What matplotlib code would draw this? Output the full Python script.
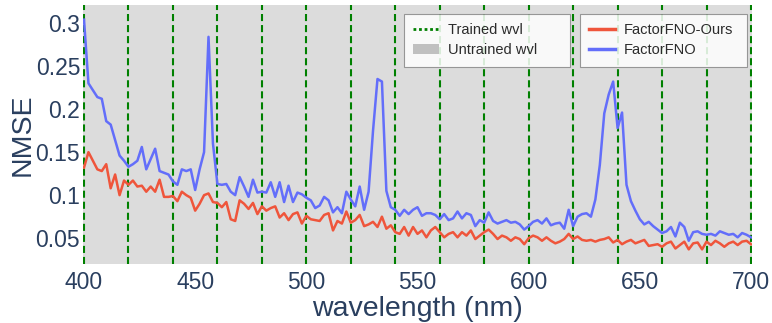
import numpy as np
import matplotlib
matplotlib.use("Agg")
import matplotlib.pyplot as plt
from matplotlib.lines import Line2D
from matplotlib.patches import Patch

# ---------------- data ----------------
wavelength = np.arange(400, 701, 2)

factorfno = [
    0.304, 0.230, 0.222, 0.214, 0.212, 0.186, 0.182, 0.164, 0.146, 0.140,   # 400-418
    0.133, 0.136, 0.140, 0.156, 0.130, 0.142, 0.154, 0.128, 0.126, 0.124,   # 420-438
    0.116, 0.112, 0.130, 0.128, 0.130, 0.106, 0.130, 0.150, 0.284, 0.160,   # 440-458
    0.113, 0.112, 0.113, 0.104, 0.100, 0.121, 0.110, 0.098, 0.118, 0.103,   # 460-478
    0.104, 0.103, 0.115, 0.098, 0.115, 0.092, 0.111, 0.092, 0.103, 0.101,   # 480-498
    0.097, 0.094, 0.085, 0.088, 0.098, 0.094, 0.080, 0.086, 0.079, 0.104,   # 500-518
    0.095, 0.087, 0.110, 0.083, 0.104, 0.175, 0.235, 0.232, 0.105, 0.086,   # 520-538
    0.083, 0.076, 0.083, 0.078, 0.083, 0.086, 0.076, 0.079, 0.079, 0.077,   # 540-558
    0.072, 0.078, 0.071, 0.073, 0.081, 0.073, 0.079, 0.077, 0.064, 0.071,   # 560-578
    0.068, 0.080, 0.070, 0.067, 0.069, 0.071, 0.068, 0.069, 0.066, 0.060,   # 580-598
    0.064, 0.069, 0.071, 0.067, 0.073, 0.065, 0.067, 0.068, 0.061, 0.083,   # 600-618
    0.064, 0.075, 0.078, 0.079, 0.075, 0.095, 0.135, 0.195, 0.217, 0.232,   # 620-638
    0.178, 0.196, 0.112, 0.093, 0.082, 0.072, 0.066, 0.069, 0.064, 0.060,   # 640-658
    0.056, 0.058, 0.063, 0.052, 0.068, 0.063, 0.047, 0.057, 0.058, 0.055,   # 660-678
    0.054, 0.055, 0.053, 0.058, 0.056, 0.054, 0.055, 0.051, 0.056, 0.054,   # 680-698
    0.051,                                                                  # 700
]

factorfno_ours = [
    0.132, 0.150, 0.140, 0.130, 0.128, 0.136, 0.108, 0.124, 0.100, 0.117,   # 400-418
    0.112, 0.117, 0.110, 0.111, 0.104, 0.110, 0.104, 0.118, 0.098, 0.098,   # 420-438
    0.099, 0.093, 0.104, 0.100, 0.097, 0.082, 0.090, 0.100, 0.102, 0.092,   # 440-458
    0.091, 0.086, 0.092, 0.072, 0.070, 0.094, 0.090, 0.084, 0.091, 0.078,   # 460-478
    0.087, 0.082, 0.085, 0.087, 0.074, 0.079, 0.071, 0.078, 0.080, 0.067,   # 480-498
    0.076, 0.072, 0.071, 0.070, 0.077, 0.079, 0.059, 0.070, 0.067, 0.081,   # 500-518
    0.068, 0.071, 0.077, 0.064, 0.066, 0.069, 0.063, 0.075, 0.061, 0.065,   # 520-538
    0.057, 0.055, 0.063, 0.053, 0.063, 0.055, 0.059, 0.051, 0.059, 0.063,   # 540-558
    0.057, 0.051, 0.055, 0.057, 0.051, 0.057, 0.053, 0.059, 0.049, 0.053,   # 560-578
    0.057, 0.060, 0.055, 0.049, 0.053, 0.051, 0.047, 0.051, 0.049, 0.043,   # 580-598
    0.050, 0.053, 0.051, 0.047, 0.051, 0.047, 0.044, 0.046, 0.049, 0.055,   # 600-618
    0.049, 0.052, 0.048, 0.047, 0.048, 0.046, 0.048, 0.049, 0.051, 0.045,   # 620-638
    0.048, 0.043, 0.046, 0.048, 0.044, 0.046, 0.048, 0.041, 0.042, 0.043,   # 640-658
    0.040, 0.044, 0.046, 0.038, 0.042, 0.046, 0.037, 0.044, 0.045, 0.037,   # 660-678
    0.046, 0.042, 0.047, 0.044, 0.040, 0.044, 0.046, 0.042, 0.046, 0.047,   # 680-698
    0.043,                                                                  # 700
]

trained_wvl = list(range(400, 701, 20))
x_ticks = [400, 450, 500, 550, 600, 650, 700]
y_ticks = [0.05, 0.1, 0.15, 0.2, 0.25, 0.3]
y_tick_labels = ["0.05", "0.1", "0.15", "0.2", "0.25", "0.3"]

series_labels = ["FactorFNO-Ours", "FactorFNO"]

# ---------------- style ----------------
plt.rcParams['font.family'] = ['Liberation Sans', 'DejaVu Sans']
TXT = '#2a3f5f'
RED = '#EF553B'
BLUE = '#636EFA'
BG = '#dcdcdc'

W, H = 772, 323
fig = plt.figure(figsize=(W / 100, H / 100), dpi=100)
L, R, T, B = 83, 752, 5, 264
ax = fig.add_axes([L / W, 1 - B / H, (R - L) / W, (B - T) / H])
ax.set_facecolor(BG)
for s in ax.spines.values():
    s.set_visible(False)

px_per_nm = (751 - 84) / 300.0
ax.set_xlim(400 - 1 / px_per_nm, 700 + 1 / px_per_nm)
ax.set_ylim(0.02, 0.321)

for w in trained_wvl:
    ax.axvline(w, color='#008000', lw=1.5, dashes=(3.4, 1.9), zorder=1)

ax.plot(wavelength, factorfno_ours, color=RED, lw=1.8, zorder=3)
ax.plot(wavelength, factorfno, color=BLUE, lw=1.8, zorder=2)

ax.set_xticks(x_ticks)
ax.set_xticklabels([str(v) for v in x_ticks])
ax.set_yticks(y_ticks)
ax.set_yticklabels(y_tick_labels)
ax.tick_params(axis='both', length=0, labelsize=16.5, labelcolor=TXT)
ax.tick_params(axis='x', pad=5)
ax.tick_params(axis='y', pad=2)

fig.text((L + R) / 2 / W, 1 - 316 / H, 'wavelength (nm)', fontsize=20.5,
         color=TXT, ha='center', va='baseline')
ax.set_ylabel('NMSE', fontsize=20.5, color=TXT, labelpad=0)

# legends
h1 = [Line2D([], [], color='#008000', lw=2, dashes=(1, 1)),
      Patch(facecolor='#c0c0c0', edgecolor='none')]
h2 = [Line2D([], [], color=RED, lw=2.5),
      Line2D([], [], color=BLUE, lw=2.5)]

common = dict(loc='upper left', mode='expand', fancybox=False, framealpha=0.85,
              edgecolor='#888888', fontsize=10.5, handlelength=1.75,
              handletextpad=0.6, borderpad=0.65, labelspacing=0.38,
              borderaxespad=0, bbox_transform=fig.transFigure, labelcolor='#2b2b2b')
leg1 = fig.legend(h1, ['Trained wvl', 'Untrained wvl'],
                  bbox_to_anchor=(404 / W, 1 - 14 / H, 166 / W, 0.0), **common)
leg2 = fig.legend(h2, series_labels,
                  bbox_to_anchor=(580 / W, 1 - 14 / H, 167 / W, 0.0), **common)
for lg in (leg1, leg2):
    lg.get_frame().set_linewidth(0.8)
    lg.set_zorder(10)

fig.savefig('out.png', dpi=100)
